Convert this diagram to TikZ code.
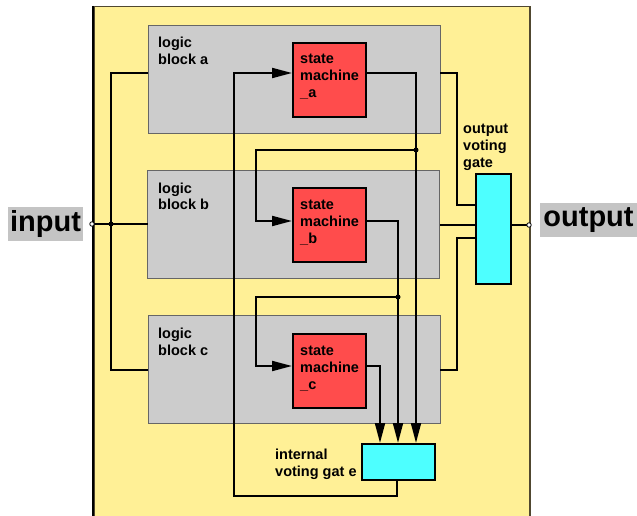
\documentclass[tikz,border=0pt]{standalone}
\usepackage{fontspec}
\setmainfont{Liberation Sans}
\usetikzlibrary{arrows.meta}
\definecolor{bgyellow}{RGB}{255,240,150}
\definecolor{blockgray}{RGB}{204,204,204}
\definecolor{smred}{RGB}{255,76,76}
\definecolor{gatecyan}{RGB}{77,255,255}
\definecolor{labelgray}{RGB}{196,196,196}
\definecolor{frameolive}{RGB}{80,72,48}
\newcommand\mlines[1]{\begin{tabular}[t]{@{}l@{}}#1\end{tabular}}
\begin{document}
\begin{tikzpicture}[x=1pt,y=-1pt,
  block/.style={draw=gray!80!black,line width=0.8pt,fill=blockgray,anchor=north west,minimum width=292pt,minimum height=108pt,inner sep=0pt},
  smbox/.style={draw=black,line width=2pt,fill=smred,anchor=north west,minimum width=73pt,minimum height=74pt,inner sep=0pt},
  gatebox/.style={draw=black,line width=2pt,fill=gatecyan,anchor=north west,inner sep=0pt},
  txt/.style={font=\fontsize{14.5}{17}\selectfont\bfseries,anchor=base west,inner sep=0pt},
  bigtxt/.style={font=\fontsize{29}{32}\selectfont\bfseries,fill=labelgray,inner sep=0pt,minimum height=34pt},
  wire/.style={line width=2pt},
  arr/.style={line width=2pt,-{Triangle[length=20pt,width=10pt]}},
  dot/.style={circle,fill=black,inner sep=0pt,minimum size=5pt},
  odot/.style={circle,draw=black,fill=white,line width=0.8pt,inner sep=0pt,minimum size=4.5pt}
]
\useasboundingbox (0,0) rectangle (637,516);
% background
\node[draw=frameolive,line width=1.5pt,fill=bgyellow,anchor=north west,minimum width=436pt,minimum height=515pt,inner sep=0pt] (bg) at (93,6) {};
\draw[line width=1.5pt,black] (bg.north west) -- (bg.south west);

% logic blocks
\node[block] (la) at (148,25) {};
\node[block] (lb) at (147,170) {};
\node[block] (lc) at (148,315) {};
\node[txt] (tla) at (158,48) {\mlines{logic\\block a}};
\node[txt] (tlb) at (158,193) {\mlines{logic\\block b}};
\node[txt] (tlc) at (158,338) {\mlines{logic\\block c}};

% state machines
\node[smbox] (sma) at (292,42) {};
\node[smbox] (smb) at (292,187) {};
\node[smbox] (smc) at (292,333) {};
\node[txt] (tsa) at (300,64) {\mlines{state\\machine\\\_a}};
\node[txt] (tsb) at (300,209) {\mlines{state\\machine\\\_b}};
\node[txt] (tsc) at (300,355) {\mlines{state\\machine\\\_c}};

% gates
\node[gatebox,minimum width=35pt,minimum height=110pt] (og) at (475,173) {};
\node[gatebox,minimum width=73pt,minimum height=36pt] (ig) at (361,443) {};
\node[txt] (tog) at (463,134) {\mlines{output\\voting\\gate}};
\node[txt] (tig) at (275,459) {\mlines{internal\\voting gat e}};

% big labels
\node[bigtxt,minimum width=75pt] (tin) at (45.5,224) {input};
\node[bigtxt,minimum width=97pt] (tout) at (588.5,220) {output};

% ports
\coordinate (in) at (92,224);
\coordinate (jin) at (111,224);
\coordinate (lb-in) at (148,224);
\coordinate (la-in) at (148,73);
\coordinate (lc-in) at (148,370);
\coordinate (la-out) at (440,73);
\coordinate (lb-out) at (440,225);
\coordinate (lc-out) at (440,370);
\coordinate (ka) at (457,205);
\coordinate (kc) at (457,238);
\coordinate (og-a) at (475,205);
\coordinate (og-b) at (475,225);
\coordinate (og-c) at (475,238);
\coordinate (og-out) at (510,225);
\coordinate (out) at (529,225);
\coordinate (sma-in) at (292,73);
\coordinate (sma-out) at (365,73);
\coordinate (smb-in) at (292,221);
\coordinate (smb-out) at (366,221);
\coordinate (smc-in) at (292,366);
\coordinate (smc-out) at (365,366);
\coordinate (ig-a) at (416,443);
\coordinate (ig-b) at (398,443);
\coordinate (ig-c) at (380,443);
\coordinate (ig-out) at (397,479);
\coordinate (ja) at (416,150);
\coordinate (jb) at (398,297);
\coordinate (tb) at (256,150);
\coordinate (tc) at (256,297);
\coordinate (fb) at (234,496);

% wires
\draw[wire] (in) -- (lb-in);
\draw[wire] (la-in) -| (jin) |- (lc-in);
\draw[wire] (la-out) -| (ka) -- (og-a);
\draw[wire] (lb-out) -- (og-b);
\draw[wire] (lc-out) -| (kc) -- (og-c);
\draw[wire] (og-out) -- (out);
\draw[arr] (ig-out) |- (fb) |- (sma-in);
\draw[arr] (sma-out) -| (ig-a);
\draw[arr] (ja) -- (tb) |- (smb-in);
\draw[arr] (smb-out) -| (ig-b);
\draw[arr] (jb) -- (tc) |- (smc-in);
\draw[arr] (smc-out) -| (ig-c);

% junctions
\node[dot] (dja) at (ja) {};
\node[dot] (djb) at (jb) {};
\node[dot] (djin) at (jin) {};
\node[odot] (din) at (in) {};
\node[odot] (dout) at (out) {};
\end{tikzpicture}
\end{document}
